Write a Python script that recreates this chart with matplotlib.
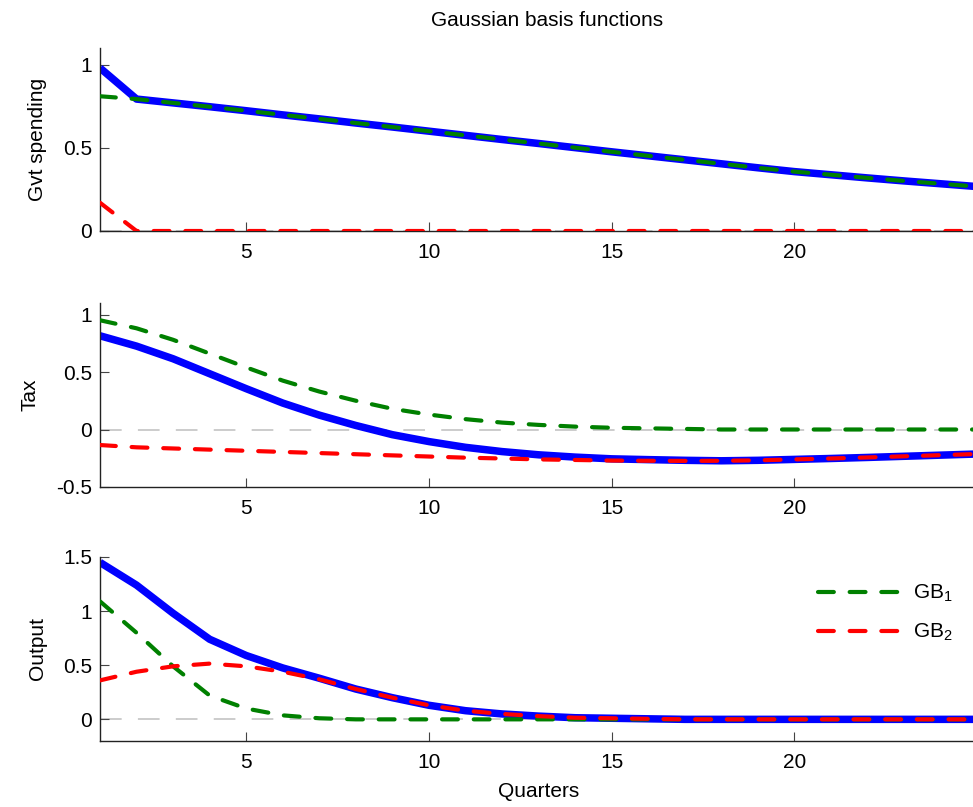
import matplotlib
matplotlib.use("Agg")
import matplotlib.pyplot as plt

plt.rcParams['font.family'] = ['Liberation Sans', 'DejaVu Sans']
plt.rcParams['mathtext.fontset'] = 'custom'
plt.rcParams['mathtext.rm'] = 'Liberation Sans'
plt.rcParams['mathtext.it'] = 'Liberation Sans'

quarters = list(range(1, 26))

# Gvt spending
gvt_total = [0.98, 0.793, 0.770, 0.747, 0.723, 0.698, 0.674, 0.649, 0.625, 0.600,
             0.575, 0.550, 0.526, 0.501, 0.476, 0.452, 0.428, 0.404, 0.380, 0.357,
             0.338, 0.319, 0.301, 0.284, 0.267]
gvt_gb1 = [0.81, 0.793, 0.770, 0.747, 0.723, 0.698, 0.674, 0.649, 0.625, 0.600,
           0.575, 0.550, 0.526, 0.501, 0.476, 0.452, 0.428, 0.404, 0.380, 0.357,
           0.338, 0.319, 0.301, 0.284, 0.267]
gvt_gb2 = [0.17, 0.0, 0.0, 0.0, 0.0, 0.0, 0.0, 0.0, 0.0, 0.0,
           0.0, 0.0, 0.0, 0.0, 0.0, 0.0, 0.0, 0.0, 0.0, 0.0,
           0.0, 0.0, 0.0, 0.0, 0.0]

# Tax
tax_total = [0.815, 0.725, 0.615, 0.485, 0.355, 0.230, 0.125, 0.035, -0.045, -0.105,
             -0.155, -0.192, -0.220, -0.240, -0.255, -0.262, -0.268, -0.272, -0.268, -0.260,
             -0.252, -0.243, -0.233, -0.223, -0.213]
tax_gb1 = [0.95, 0.88, 0.78, 0.66, 0.54, 0.425, 0.33, 0.25, 0.18, 0.13,
           0.09, 0.06, 0.04, 0.025, 0.015, 0.01, 0.005, 0.0, 0.0, 0.0,
           0.0, 0.0, 0.0, 0.0, 0.0]
tax_gb2 = [-0.135, -0.155, -0.165, -0.175, -0.185, -0.195, -0.205, -0.215, -0.225, -0.235,
           -0.245, -0.252, -0.260, -0.265, -0.270, -0.272, -0.273, -0.272, -0.268, -0.260,
           -0.252, -0.243, -0.233, -0.223, -0.213]

# Output
out_total = [1.45, 1.24, 0.98, 0.74, 0.59, 0.475, 0.38, 0.28, 0.20, 0.13,
             0.08, 0.05, 0.03, 0.015, 0.01, 0.005, 0.0, 0.0, 0.0, 0.0,
             0.0, 0.0, 0.0, 0.0, 0.0]
out_gb1 = [1.09, 0.80, 0.49, 0.22, 0.10, 0.037, 0.01, 0.0, 0.0, 0.0,
           0.0, 0.0, 0.0, 0.0, 0.0, 0.0, 0.0, 0.0, 0.0, 0.0,
           0.0, 0.0, 0.0, 0.0, 0.0]
out_gb2 = [0.36, 0.44, 0.49, 0.515, 0.49, 0.44, 0.37, 0.28, 0.20, 0.13,
           0.08, 0.05, 0.03, 0.015, 0.01, 0.005, 0.0, 0.0, 0.0, 0.0,
           0.0, 0.0, 0.0, 0.0, 0.0]

panel_labels = ["Gvt spending", "Tax", "Output"]
panel_ylims = [(0, 1.1), (-0.5, 1.1), (-0.2, 1.5)]
panel_yticks = [[0, 0.5, 1], [-0.5, 0, 0.5, 1], [0, 0.5, 1, 1.5]]
xticks = [5, 10, 15, 20]
legend_labels = ["GB$_1$", "GB$_2$"]

W, H = 973, 807
fig = plt.figure(figsize=(W / 100, H / 100), dpi=100)

left_px = 100
unit_px = 36.55
width_px = 24 * unit_px
panels_px = [(48, 231), (303, 487), (557, 741)]

data = [(gvt_total, gvt_gb1, gvt_gb2), (tax_total, tax_gb1, tax_gb2), (out_total, out_gb1, out_gb2)]

FS = 15
dash = (3.8, 3.8)
for i, ((top, bot), (tot, g1, g2)) in enumerate(zip(panels_px, data)):
    ax = fig.add_axes([left_px / W, 1 - bot / H, width_px / W, (bot - top) / H])
    ax.axhline(0, color='#c8c8c8', lw=1.3, ls=(0, (12, 9)), zorder=1)
    ax.plot(quarters, tot, color='#0000ff', lw=5.4, solid_capstyle='butt', zorder=2)
    l1, = ax.plot(quarters, g1, color='#008000', lw=3.0, dashes=dash,
                  dash_capstyle='round', zorder=3, label=legend_labels[0])
    l2, = ax.plot(quarters, g2, color='#ff0000', lw=3.0, dashes=dash,
                  dash_capstyle='round', zorder=4, label=legend_labels[1])
    ax.set_xlim(1, 25)
    ax.set_ylim(*panel_ylims[i])
    ax.set_xticks(xticks)
    ax.set_yticks(panel_yticks[i])
    ax.set_yticklabels([('%g' % v) for v in panel_yticks[i]])
    for s in ['top', 'right']:
        ax.spines[s].set_visible(False)
    for s in ['left', 'bottom']:
        ax.spines[s].set_color('#222222')
        ax.spines[s].set_linewidth(1.0)
    ax.tick_params(direction='in', length=6.5, width=0.8, color='#444444',
                   labelsize=FS)
    ax.tick_params(axis='y', pad=5.5)
    ax.tick_params(axis='x', pad=8.5)
    ax.set_ylabel(panel_labels[i], fontsize=FS, labelpad=12)
    if i == 2:
        ax.set_xlabel("Quarters", fontsize=FS, labelpad=7)
        fig.legend(handles=[l1, l2], loc='upper left',
                   bbox_to_anchor=(818 / W, 1 - 583 / H), frameon=False,
                   fontsize=FS, handlelength=4.2, handletextpad=0.35,
                   borderpad=0, borderaxespad=0, labelspacing=0.85)

fig.text(547 / W, 1 - 21 / H, "Gaussian basis functions", ha='center', va='center', fontsize=FS)

fig.savefig("out.png", dpi=100)
